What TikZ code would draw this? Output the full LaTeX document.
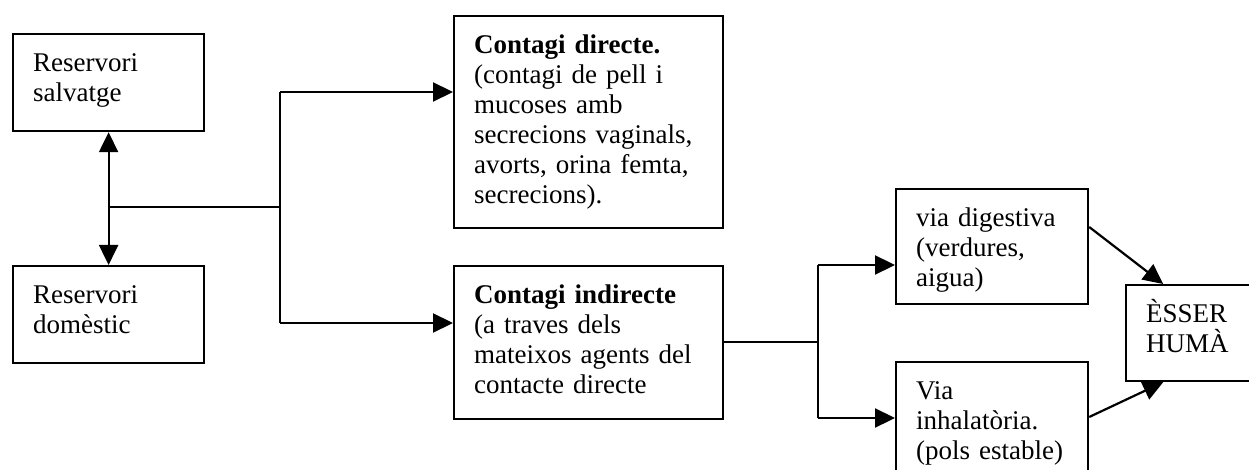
\documentclass[tikz,border=0pt]{standalone}
\usepackage{fontspec}
\setmainfont{Liberation Serif}
\usetikzlibrary{shapes,arrows.meta,positioning,calc}

\begin{document}
\begin{tikzpicture}[x=1pt, y=-1pt,
    box/.style={draw, line width=2.2pt, anchor=north west, align=left, inner xsep=20pt, inner ysep=18pt, text height=19pt, font=\fontsize{27}{30}\selectfont},
    arr/.style={line width=2.2pt, -{Triangle[length=20pt,width=19pt]}},
    link/.style={line width=2.2pt},
]
\useasboundingbox (0,0) rectangle (1249,470);

% Reservoirs
\node[box, text width=151pt, text depth=42pt] (salvatge) at (12,33) {Reservori\\salvatge};
\node[box, text width=151pt, text depth=42pt] (domestic) at (12,265) {Reservori\\domèstic};

% Contagion routes
\node[box, text width=229pt, text depth=157pt] (directe) at (453,15) {\textbf{Contagi directe.}\\(contagi de pell i\\mucoses amb\\secrecions vaginals,\\avorts, orina femta,\\secrecions).};
\node[box, text width=229pt, text depth=98pt] (indirecte) at (453,265) {\textbf{Contagi indirecte}\\(a traves dels\\mateixos agents del\\contacte directe};

% Indirect ways
\node[box, text width=152pt, text depth=60pt] (digestiva) at (895,188) {via digestiva\\(verdures,\\aigua)};
\node[box, text width=152pt, text depth=62pt] (inhalatoria) at (895,361) {Via\\inhalatòria.\\(pols estable)};

% Target
\node[box, text width=85pt, text depth=41pt] (huma) at (1125,284) {ÈSSER\\HUMÀ};

% Branch points
\coordinate (m1) at (107.5,207);
\coordinate (j1) at (280,92);
\coordinate (j2) at (280,323);
\coordinate (k0) at (818,342);
\coordinate (k1) at (818,265);
\coordinate (k2) at (818,418);

% Connections
\draw[link, {Triangle[length=20pt,width=19pt]}-{Triangle[length=20pt,width=19pt]}] (salvatge.south) -- (domestic.north);
\draw[link] (m1) -- (m1 -| j1);
\draw[link] (j1) -- (j2);
\draw[arr] (j1) -- (j1 -| directe.west);
\draw[arr] (j2) -- (j2 -| indirecte.west);
\draw[link] (k0 -| indirecte.east) -- (k0);
\draw[link] (k1) -- (k2);
\draw[arr] (k1) -- (k1 -| digestiva.west);
\draw[arr] (k2) -- (k2 -| inhalatoria.west);
\draw[arr] ([yshift=-39pt]digestiva.north east) -- ($(huma.north west)!0.3!(huma.north east)$);
\draw[arr] ([yshift=-56pt]inhalatoria.north east) -- ($(huma.south west)!0.3!(huma.south east)$);

\end{tikzpicture}
\end{document}
